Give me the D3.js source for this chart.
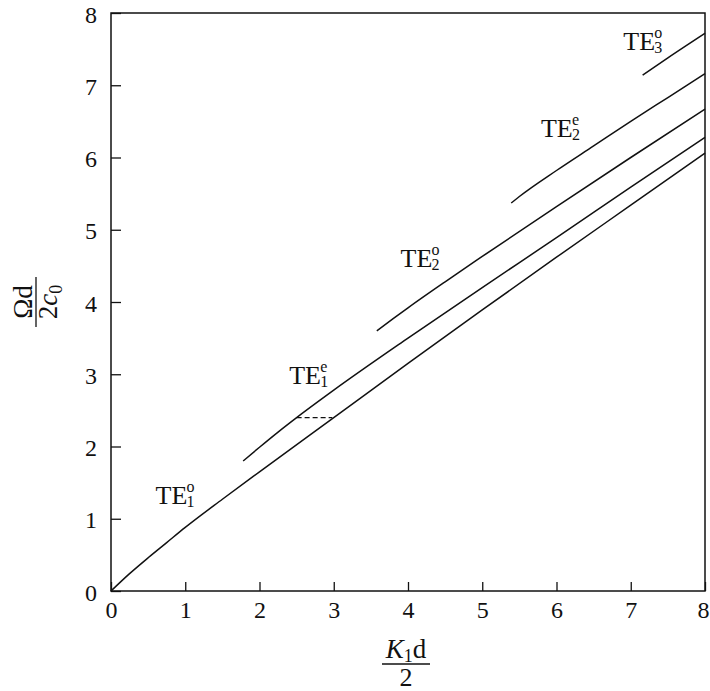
<!DOCTYPE html>
<html>
<head>
<meta charset="utf-8">
<script src="https://cdn.jsdelivr.net/npm/d3@7"></script>
<style>
  html, body { margin: 0; padding: 0; background: #fff; }
  svg { display: block; }
</style>
</head>
<body>
<div id="chart"></div>
<script>
// Valeurs : [K1d/2, Ωd/2c0]
const te1o = [[0, 0], [0.25, 0.24], [0.5, 0.46], [0.75, 0.67], [1, 0.88], [1.5, 1.27],
  [2, 1.65], [3, 2.4], [4, 3.15], [5, 3.89], [6, 4.62], [7, 5.34], [8, 6.06]];
const te1e = [[1.78, 1.8], [2, 1.99], [2.25, 2.2], [2.5, 2.4], [3, 2.78],
  [4, 3.5], [5, 4.2], [6, 4.89], [7, 5.59], [8, 6.28]];
const te2o = [[3.58, 3.6], [3.8, 3.77], [4, 3.92], [4.5, 4.28], [5, 4.63], [6, 5.32],
  [7, 6.0], [8, 6.67]];
const te2e = [[5.39, 5.37], [5.5, 5.46], [6, 5.82], [6.5, 6.16], [7, 6.5], [7.5, 6.83], [8, 7.16]];
const te3o = [[7.16, 7.14], [7.5, 7.38], [8, 7.72]];
const dashed = [[2.5, 2.4], [2.98, 2.4]];

// Étiquettes des modes : position (K, Ω), indice, exposant
const modeLabels = [
  { k: 0.6, w: 1.2, sub: "1", sup: "o" },
  { k: 2.4, w: 2.86, sub: "1", sup: "e" },
  { k: 3.9, w: 4.49, sub: "2", sup: "o" },
  { k: 5.79, w: 6.29, sub: "2", sup: "e" },
  { k: 6.9, w: 7.49, sub: "3", sup: "o" }
];

const xTicks = [0, 1, 2, 3, 4, 5, 6, 7, 8];
const yTicks = [0, 1, 2, 3, 4, 5, 6, 7, 8];

const width = 710, height = 691;
const serif = "'Liberation Serif', 'Times New Roman', serif";
const ink = "#111";

const svg = d3.select("#chart").append("svg")
  .attr("width", width)
  .attr("height", height)
  .attr("font-family", serif);

const x = d3.scaleLinear().domain([0, 8]).range([111, 705]);
const y = d3.scaleLinear().domain([0, 8]).range([591, 13]);

// Cadre
svg.append("rect")
  .attr("x", x(0)).attr("y", y(8))
  .attr("width", x(8) - x(0)).attr("height", y(0) - y(8))
  .attr("fill", "none")
  .attr("stroke", ink)
  .attr("stroke-width", 1.5);

// Axe X
svg.append("g")
  .attr("transform", `translate(0,${y(0)})`)
  .call(d3.axisBottom(x).tickValues(xTicks).tickFormat(d3.format("d"))
    .tickSizeInner(-9).tickSizeOuter(0).tickPadding(10))
  .call(ax => ax.select(".domain").remove())
  .call(ax => ax.selectAll("line").attr("stroke", ink).attr("stroke-width", 1.3))
  .selectAll("text")
  .attr("fill", ink)
  .attr("font-size", "24px")
  .attr("font-family", serif)
  .attr("dx", d => d === 8 ? -2 : 0);

// Axe Y
svg.append("g")
  .attr("transform", `translate(${x(0)},0)`)
  .call(d3.axisLeft(y).tickValues(yTicks).tickFormat(d3.format("d"))
    .tickSizeInner(-10).tickSizeOuter(0).tickPadding(14))
  .call(ax => ax.select(".domain").remove())
  .call(ax => ax.selectAll("line").attr("stroke", ink).attr("stroke-width", 1.3))
  .selectAll("text")
  .attr("fill", ink)
  .attr("font-size", "24px")
  .attr("font-family", serif)
  .attr("dy", "0.38em");

// Courbes de dispersion
const line = d3.line()
  .x(d => x(d[0]))
  .y(d => y(d[1]))
  .curve(d3.curveMonotoneX);

svg.selectAll(".mode")
  .data([te1o, te1e, te2o, te2e, te3o])
  .enter().append("path")
  .attr("class", "mode")
  .attr("d", line)
  .attr("fill", "none")
  .attr("stroke", ink)
  .attr("stroke-width", 1.5);

svg.append("path")
  .attr("d", d3.line().x(d => x(d[0])).y(d => y(d[1]))(dashed))
  .attr("fill", "none")
  .attr("stroke", ink)
  .attr("stroke-width", 1.1)
  .attr("stroke-dasharray", "5,3");

// Étiquettes TE
const lab = svg.selectAll(".mode-label")
  .data(modeLabels)
  .enter().append("g")
  .attr("class", "mode-label")
  .attr("transform", d => `translate(${x(d.k)},${y(d.w)})`)
  .attr("fill", ink);

lab.append("text").attr("font-size", "26px").text("TE");
lab.append("text").attr("x", 31).attr("y", 3).attr("font-size", "16px").text(d => d.sub);
lab.append("text").attr("x", 31).attr("y", -12).attr("font-size", "16px").text(d => d.sup);

// Titre axe X : K1d / 2
const xl = svg.append("g")
  .attr("transform", `translate(${(x(0) + x(8)) / 2 - 2},664)`)
  .attr("fill", ink);
const xnum = xl.append("text").attr("y", -6).attr("text-anchor", "middle").attr("font-size", "27px");
xnum.append("tspan").attr("font-style", "italic").text("K");
xnum.append("tspan").attr("font-size", "18px").attr("dy", 4).text("1");
xnum.append("tspan").attr("dy", -4).text("d");
xl.append("line").attr("x1", -24).attr("x2", 24).attr("stroke", ink).attr("stroke-width", 1.3);
xl.append("text").attr("y", 22).attr("text-anchor", "middle").attr("font-size", "26px").text("2");

// Titre axe Y : Ωd / 2c0 (tourné)
const yl = svg.append("g")
  .attr("transform", `translate(36,${(y(0) + y(8)) / 2}) rotate(-90)`)
  .attr("fill", ink);
yl.append("text").attr("y", -4).attr("text-anchor", "middle").attr("font-size", "27px").text("Ωd");
yl.append("line").attr("x1", -25).attr("x2", 25).attr("stroke", ink).attr("stroke-width", 1.3);
const yden = yl.append("text").attr("y", 21).attr("text-anchor", "middle").attr("font-size", "27px");
yden.append("tspan").text("2");
yden.append("tspan").attr("font-style", "italic").text("c");
yden.append("tspan").attr("font-size", "18px").attr("dy", 5).text("0");
</script>
</body>
</html>
